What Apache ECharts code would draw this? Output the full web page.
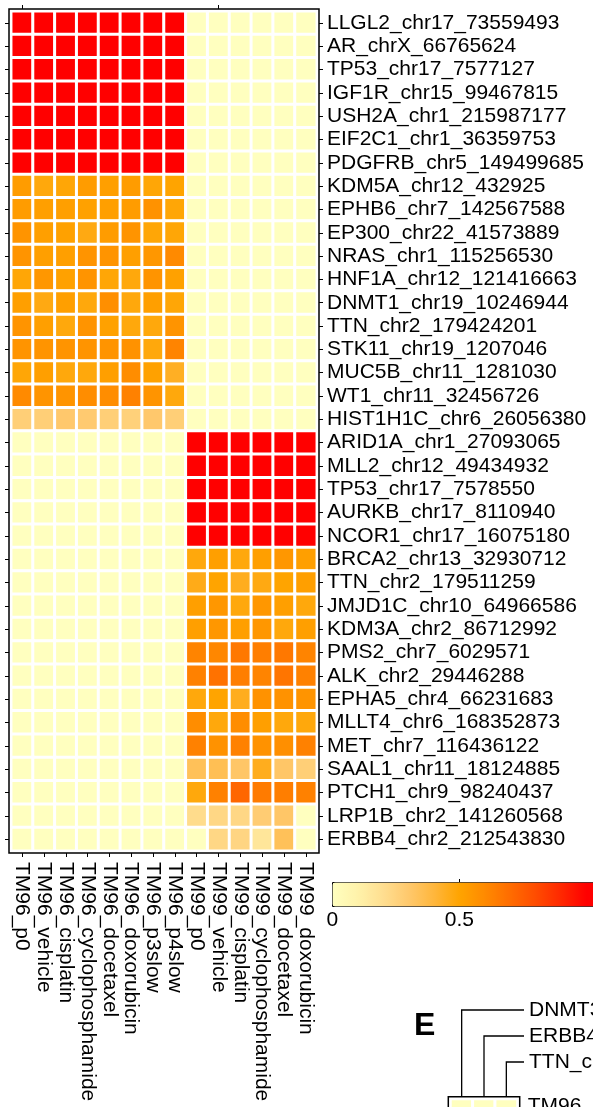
<!DOCTYPE html>
<html>
<head>
<meta charset="utf-8">
<script src="https://cdn.jsdelivr.net/npm/echarts@6/dist/echarts.min.js"></script>
<style>
  html, body { margin: 0; padding: 0; background: #fff; }
  #chart { width: 593px; height: 1107px; }
</style>
</head>
<body>
<div id="chart"></div>
<script>
// Samples (columns) and variants (rows) of the allele-frequency heatmap
const samples = [
  'TM96_p0', 'TM96_vehicle', 'TM96_cisplatin', 'TM96_cyclophosphamide',
  'TM96_docetaxel', 'TM96_doxorubicin', 'TM96_p3slow', 'TM96_p4slow',
  'TM99_p0', 'TM99_vehicle', 'TM99_cisplatin', 'TM99_cyclophosphamide',
  'TM99_docetaxel', 'TM99_doxorubicin'
];

const variants = [
  'LLGL2_chr17_73559493', 'AR_chrX_66765624', 'TP53_chr17_7577127',
  'IGF1R_chr15_99467815', 'USH2A_chr1_215987177', 'EIF2C1_chr1_36359753',
  'PDGFRB_chr5_149499685', 'KDM5A_chr12_432925', 'EPHB6_chr7_142567588',
  'EP300_chr22_41573889', 'NRAS_chr1_115256530', 'HNF1A_chr12_121416663',
  'DNMT1_chr19_10246944', 'TTN_chr2_179424201', 'STK11_chr19_1207046',
  'MUC5B_chr11_1281030', 'WT1_chr11_32456726', 'HIST1H1C_chr6_26056380',
  'ARID1A_chr1_27093065', 'MLL2_chr12_49434932', 'TP53_chr17_7578550',
  'AURKB_chr17_8110940', 'NCOR1_chr17_16075180', 'BRCA2_chr13_32930712',
  'TTN_chr2_179511259', 'JMJD1C_chr10_64966586', 'KDM3A_chr2_86712992',
  'PMS2_chr7_6029571', 'ALK_chr2_29446288', 'EPHA5_chr4_66231683',
  'MLLT4_chr6_168352873', 'MET_chr7_116436122', 'SAAL1_chr11_18124885',
  'PTCH1_chr9_98240437', 'LRP1B_chr2_141260568', 'ERBB4_chr2_212543830'
];

// Allele frequencies, one row per variant, TM96 samples (8 columns)
const vafTM96 = [
  [1, 1, 1, 1, 1, 1, 1, 1],
  [1, 1, 1, 1, 1, 1, 1, 1],
  [1, 1, 1, 1, 1, 1, 1, 1],
  [1, 1, 1, 1, 1, 1, 1, 1],
  [1, 1, 1, 1, 1, 1, 1, 1],
  [1, 1, 1, 1, 1, 1, 1, 1],
  [1, 1, 1, 1, 1, 1, 1, 1],
  [0.53, 0.48, 0.49, 0.53, 0.52, 0.53, 0.49, 0.50],
  [0.53, 0.52, 0.52, 0.51, 0.52, 0.53, 0.57, 0.49],
  [0.56, 0.52, 0.51, 0.47, 0.53, 0.56, 0.49, 0.49],
  [0.56, 0.52, 0.52, 0.56, 0.56, 0.52, 0.55, 0.60],
  [0.49, 0.55, 0.51, 0.56, 0.49, 0.48, 0.56, 0.51],
  [0.52, 0.47, 0.52, 0.48, 0.58, 0.48, 0.52, 0.49],
  [0.56, 0.52, 0.48, 0.56, 0.51, 0.48, 0.48, 0.56],
  [0.56, 0.56, 0.56, 0.56, 0.56, 0.57, 0.48, 0.62],
  [0.49, 0.52, 0.48, 0.48, 0.52, 0.59, 0.51, 0.44],
  [0.60, 0.56, 0.56, 0.59, 0.59, 0.63, 0.56, 0.48],
  [0.27, 0.27, 0.30, 0.29, 0.27, 0.26, 0.30, 0.27],
  [0, 0, 0, 0, 0, 0, 0, 0],
  [0, 0, 0, 0, 0, 0, 0, 0],
  [0, 0, 0, 0, 0, 0, 0, 0],
  [0, 0, 0, 0, 0, 0, 0, 0],
  [0, 0, 0, 0, 0, 0, 0, 0],
  [0, 0, 0, 0, 0, 0, 0, 0],
  [0, 0, 0, 0, 0, 0, 0, 0],
  [0, 0, 0, 0, 0, 0, 0, 0],
  [0, 0, 0, 0, 0, 0, 0, 0],
  [0, 0, 0, 0, 0, 0, 0, 0],
  [0, 0, 0, 0, 0, 0, 0, 0],
  [0, 0, 0, 0, 0, 0, 0, 0],
  [0, 0, 0, 0, 0, 0, 0, 0],
  [0, 0, 0, 0, 0, 0, 0, 0],
  [0, 0, 0, 0, 0, 0, 0, 0],
  [0, 0, 0, 0, 0, 0, 0, 0],
  [0, 0, 0, 0, 0, 0, 0, 0],
  [0, 0, 0, 0, 0, 0, 0, 0]
];

// Allele frequencies, TM99 samples (6 columns)
const vafTM99 = [
  [0, 0, 0, 0, 0, 0],
  [0, 0, 0, 0, 0, 0],
  [0, 0, 0, 0, 0, 0],
  [0, 0, 0, 0, 0, 0],
  [0, 0, 0, 0, 0, 0],
  [0, 0, 0, 0, 0, 0],
  [0, 0, 0, 0, 0, 0],
  [0, 0, 0, 0, 0, 0],
  [0, 0, 0, 0, 0, 0],
  [0, 0, 0, 0, 0, 0],
  [0, 0, 0, 0, 0, 0],
  [0, 0, 0, 0, 0, 0],
  [0, 0, 0, 0, 0, 0],
  [0, 0, 0, 0, 0, 0],
  [0, 0, 0, 0, 0, 0],
  [0, 0, 0, 0, 0, 0],
  [0, 0, 0, 0, 0, 0],
  [0, 0, 0, 0, 0, 0],
  [1, 1, 1, 1, 1, 1],
  [1, 1, 1, 1, 1, 1],
  [1, 1, 1, 1, 1, 1],
  [1, 1, 1, 1, 1, 1],
  [1, 1, 1, 1, 1, 1],
  [0.48, 0.52, 0.48, 0.52, 0.55, 0.52],
  [0.46, 0.50, 0.45, 0.47, 0.50, 0.52],
  [0.52, 0.55, 0.48, 0.55, 0.52, 0.48],
  [0.52, 0.55, 0.52, 0.55, 0.48, 0.52],
  [0.62, 0.61, 0.66, 0.64, 0.66, 0.62],
  [0.63, 0.68, 0.64, 0.62, 0.67, 0.63],
  [0.48, 0.50, 0.45, 0.57, 0.57, 0.56],
  [0.59, 0.48, 0.59, 0.52, 0.48, 0.48],
  [0.63, 0.57, 0.63, 0.57, 0.58, 0.63],
  [0.34, 0.35, 0.31, 0.45, 0.31, 0.27],
  [0.48, 0.63, 0.72, 0.65, 0.64, 0.63],
  [0.21, 0.23, 0.23, 0.28, 0.31, 0],
  [0, 0.23, 0.24, 0.16, 0.34, 0]
];

// Colour-bar tick labels
const scaleTicks = [0, 0.5];

// Next panel (E): its first row and column labels
const panelECols = ['DNMT3A', 'ERBB4_chr2', 'TTN_chr2'];
const panelERows = ['TM96_p0'];
const panelEValues = [[0, 0, 0]];

// Colour ramp: pale yellow -> orange -> red (stops every 0.1, last one at 1.1)
const rampColors = [
  '#FFFFBF', '#FFF2AA', '#FFDE90', '#FFC86C', '#FFB63C', '#FFA400',
  '#FF8A00', '#FF6C00', '#FF4C00', '#FF2800', '#FF0000', '#FF0000'
];

const FONT = 'Liberation Sans';
const FS = 21;

// main heatmap frame
const G = { left: 11.2, top: 11.2, width: 305.6, height: 839.6 };
const PAD = 2.2;
// panel E frame
const GE = { left: 450.5, top: 1099, width: 67, height: 15 };

const heatData = [];
variants.forEach((v, r) => {
  vafTM96[r].forEach((val, c) => heatData.push([c, r, val]));
  vafTM99[r].forEach((val, c) => heatData.push([c + vafTM96[r].length, r, val]));
});

const eData = [];
panelERows.forEach((row, r) => {
  panelEValues[r].forEach((val, c) => eData.push([c, r, val]));
});

const chart = echarts.init(document.getElementById('chart'), null, { renderer: 'canvas' });

const hiddenLine = { show: true, lineStyle: { color: '#000', opacity: 0 } };
const tickStyle = { show: true, inside: false, lineStyle: { color: '#000', width: 1 }, length: 4, alignWithLabel: true };
const textBase = { color: '#000', fontFamily: FONT, fontSize: FS };
const gridBase = { containLabel: false, outerBoundsMode: 'none' };

chart.setOption({
  animation: false,
  backgroundColor: '#fff',
  grid: [
    Object.assign({ left: G.left, top: G.top, width: G.width, height: G.height }, gridBase),
    Object.assign({ left: 332.3, top: 882, width: 254, height: 24 }, gridBase),
    Object.assign({ left: GE.left, top: GE.top, width: GE.width, height: GE.height }, gridBase)
  ],
  xAxis: [
    {
      gridIndex: 0, type: 'category', data: samples, position: 'bottom', offset: PAD,
      axisLine: hiddenLine, axisTick: tickStyle, splitLine: { show: false },
      axisLabel: Object.assign({ rotate: -90, margin: 9, interval: 0 }, textBase)
    },
    {
      gridIndex: 0, type: 'category', data: samples, position: 'top', offset: PAD,
      axisLine: hiddenLine, axisTick: tickStyle, axisLabel: { show: false }
    },
    {
      gridIndex: 1, type: 'value', min: 0, max: 1, position: 'bottom',
      axisLine: { show: false }, axisTick: { show: false }, splitLine: { show: false },
      axisLabel: Object.assign({ margin: 4, customValues: scaleTicks }, textBase)
    },
    {
      gridIndex: 1, type: 'value', min: 0, max: 1, position: 'top',
      axisLine: { show: false }, splitLine: { show: false }, axisLabel: { show: false },
      axisTick: { show: true, length: 3, customValues: [0.5], lineStyle: { color: '#000' } }
    },
    {
      gridIndex: 2, type: 'category', data: panelECols, position: 'top',
      axisLine: { show: false }, axisTick: { show: false }, axisLabel: { show: false }
    }
  ],
  yAxis: [
    {
      gridIndex: 0, type: 'category', data: variants, inverse: true, position: 'left', offset: PAD,
      axisLine: hiddenLine, axisTick: tickStyle, axisLabel: { show: false }, splitLine: { show: false }
    },
    {
      gridIndex: 0, type: 'category', data: variants, inverse: true, position: 'right', offset: PAD,
      axisLine: hiddenLine, axisTick: tickStyle,
      axisLabel: Object.assign({ margin: 8, interval: 0 }, textBase)
    },
    {
      gridIndex: 1, type: 'value', show: false
    },
    {
      gridIndex: 2, type: 'category', data: panelERows, inverse: true, position: 'right', offset: PAD,
      axisLine: { show: false }, axisTick: { show: false },
      axisLabel: Object.assign({ margin: 8 }, textBase)
    }
  ],
  visualMap: {
    type: 'continuous',
    min: 0, max: 1.1,
    orient: 'horizontal',
    left: 332, top: 882,
    itemWidth: 24, itemHeight: 279.4,
    calculable: false,
    seriesIndex: [0, 1],
    padding: 0,
    borderColor: '#000',
    borderWidth: 1,
    inRange: { color: rampColors }
  },
  series: [
    {
      type: 'heatmap', xAxisIndex: 0, yAxisIndex: 0, data: heatData,
      itemStyle: { borderColor: '#fff', borderWidth: 3 },
      emphasis: { disabled: true }
    },
    {
      type: 'heatmap', xAxisIndex: 4, yAxisIndex: 3, data: eData,
      itemStyle: { borderColor: '#fff', borderWidth: 3 },
      emphasis: { disabled: true }
    }
  ]
});

// Frames around both heatmaps, panel letter and column-label leaders of panel E
const graphics = [
  {
    type: 'rect', silent: true, z: 10,
    shape: { x: G.left - PAD, y: G.top - PAD, width: G.width + 2 * PAD, height: G.height + 2 * PAD },
    style: { fill: 'none', stroke: '#000', lineWidth: 1.5 }
  },
  {
    type: 'rect', silent: true, z: 10,
    shape: { x: GE.left - PAD, y: GE.top - PAD, width: GE.width + 2 * PAD, height: 200 },
    style: { fill: 'none', stroke: '#000', lineWidth: 1.5 }
  },
  {
    type: 'text', silent: true, z: 10, x: 414, y: 1010,
    style: { text: 'E', fill: '#000', font: 'bold 32px "Liberation Sans"' }
  }
];
const labelX = 529;
panelECols.forEach((name, i) => {
  const cx = chart.convertToPixel({ xAxisIndex: 4 }, name);
  const ly = 1010 + i * 26;
  graphics.push({
    type: 'polyline', silent: true, z: 10,
    shape: { points: [[cx, GE.top - PAD], [cx, ly], [labelX - 5, ly]] },
    style: { stroke: '#000', lineWidth: 1.3, fill: 'none' }
  });
  graphics.push({
    type: 'text', silent: true, z: 10, x: labelX, y: ly,
    style: { text: name, fill: '#000', font: FS + 'px "Liberation Sans"', verticalAlign: 'middle' }
  });
});
chart.setOption({ graphic: graphics });
</script>
</body>
</html>
